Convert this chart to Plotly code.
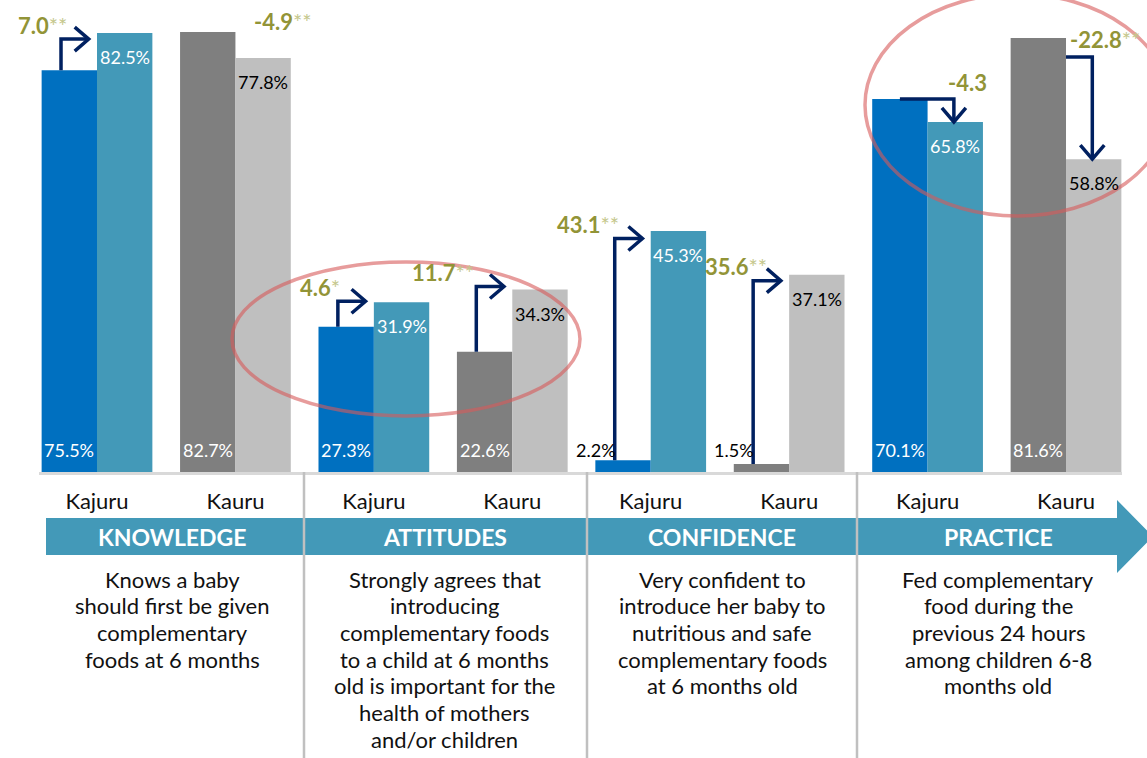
import plotly.graph_objects as go

# ---------------- data ----------------
groups = ["KNOWLEDGE", "ATTITUDES", "CONFIDENCE", "PRACTICE"]
sites = ["Kajuru", "Kauru"]
baseline = [75.5, 82.7, 27.3, 22.6, 2.2, 1.5, 70.1, 81.6]
endline = [82.5, 77.8, 31.9, 34.3, 45.3, 37.1, 65.8, 58.8]
change_vals = ["7.0", "-4.9", "4.6", "11.7", "43.1", "35.6", "-4.3", "-22.8"]
change_sig = ["**", "**", "*", "**", "**", "**", "", "**"]
descriptions = [
    ["Knows a baby", "should first be given", "complementary", "foods at 6 months"],
    ["Strongly agrees that", "introducing", "complementary foods", "to a child at 6 months",
     "old is important for the", "health of mothers", "and/or children"],
    ["Very confident to", "introduce her baby to", "nutritious and safe",
     "complementary foods", "at 6 months old"],
    ["Fed complementary", "food during the", "previous 24 hours",
     "among children 6-8", "months old"],
]

# ---------------- style ----------------
FONT = "Lato, 'Open Sans', sans-serif"
C_KAJ_B, C_KAJ_E = "#0070C0", "#4399B8"
C_KAU_B, C_KAU_E = "#7F7F7F", "#BFBFBF"
NAVY = "#002060"
OLIVE = "#929437"
OLIVE_L = "#C5C78C"
W, H = 1147, 758
ML, MR, MT, MB = 39, 25, 0, 286
PW = W - ML - MR          # plot width px
PH = H - MT - MB          # plot height px
XS = 138.43               # px per category unit
X0 = -0.419
YS = 5.32                 # px per percent
YMAX = PH / YS


def xp(px):  # pixel -> paper x
    return (px - ML) / PW


def yp(py):  # pixel -> paper y
    return (MT + PH - py) / PH


n = len(baseline)
xs = list(range(n))
site_labels = [sites[i % 2] for i in xs]

fig = go.Figure()
fig.add_trace(go.Bar(x=xs, y=baseline, name="Baseline",
                     marker=dict(color=[C_KAJ_B if i % 2 == 0 else C_KAU_B for i in xs], line=dict(width=0))))
fig.add_trace(go.Bar(x=xs, y=endline, name="Endline",
                     marker=dict(color=[C_KAJ_E if i % 2 == 0 else C_KAU_E for i in xs], line=dict(width=0))))

shapes = []
annos = []

elbow_px = [6, 6, -1, -3, 7.5, 6, 0, 19]
label_dx = [8, -10, 4, 0, 6, 16, -8, -24]
draw_arrow = [True, False, True, True, True, True, True, True]

dxu = 1.0 / XS
dyu = 1.0 / YS
HEAD_A, HEAD_C = 14, 12   # arrowhead along / across px


def line_path(pts):
    return "M " + " L ".join(f"{x},{y}" for x, y in pts)


def change_text(i):
    t = f"<b>{change_vals[i]}</b>"
    if change_sig[i]:
        t += f"<span style='color:{OLIVE_L}'>{change_sig[i]}</span>"
    return t


for i in xs:
    b, e = baseline[i], endline[i]
    inc = e >= b
    if inc:
        xv = i - 0.26
        xt = i - 0.06
        ey = e - elbow_px[i] * dyu
        if draw_arrow[i]:
            shapes.append(dict(type="path", xref="x", yref="y",
                               path=line_path([(xv, b), (xv, ey), (xt, ey)]),
                               line=dict(color=NAVY, width=3.5)))
            shapes.append(dict(type="path", xref="x", yref="y",
                               path=line_path([(xt - HEAD_A * dxu, ey + HEAD_C * dyu), (xt, ey),
                                               (xt - HEAD_A * dxu, ey - HEAD_C * dyu)]),
                               line=dict(color=NAVY, width=3.5)))
        annos.append(dict(x=xv, y=ey, xref="x", yref="y", xanchor="right", yanchor="middle",
                          xshift=label_dx[i], yshift=14, showarrow=False, text=change_text(i),
                          font=dict(family=FONT, size=22, color=OLIVE)))
    else:
        ey = b - elbow_px[i] * dyu
        xs0 = i - 0.2 if elbow_px[i] <= 0 else i
        xv = i + 0.19
        if draw_arrow[i]:
            shapes.append(dict(type="path", xref="x", yref="y",
                               path=line_path([(xs0, ey), (xv, ey), (xv, e)]),
                               line=dict(color=NAVY, width=3.5)))
            shapes.append(dict(type="path", xref="x", yref="y",
                               path=line_path([(xv - HEAD_C * dxu, e + HEAD_A * dyu), (xv, e),
                                               (xv + HEAD_C * dxu, e + HEAD_A * dyu)]),
                               line=dict(color=NAVY, width=3.5)))
        annos.append(dict(x=xv, y=ey, xref="x", yref="y", xanchor="left", yanchor="middle",
                          xshift=label_dx[i], yshift=17, showarrow=False, text=change_text(i),
                          font=dict(family=FONT, size=22, color=OLIVE)))

    # baseline value label
    if b >= 10:
        annos.append(dict(x=i - 0.2, y=0, xref="x", yref="y", xanchor="center", yanchor="bottom",
                          yshift=9, showarrow=False, text=f"{b:.1f}%",
                          font=dict(family=FONT, size=18, color="white")))
    else:
        annos.append(dict(x=i - 0.26, y=0, xref="x", yref="y", xanchor="right", yanchor="bottom",
                          xshift=3, yshift=9, showarrow=False, text=f"{b:.1f}%",
                          font=dict(family=FONT, size=18, color="black")))
    # endline value label
    annos.append(dict(x=i + 0.2, y=e, xref="x", yref="y", xanchor="center", yanchor="top",
                      yshift=-11, showarrow=False, text=f"{e:.1f}%",
                      font=dict(family=FONT, size=18, color="white" if i % 2 == 0 else "black")))

# ------------- bottom band -------------
band_top, band_bot = 518, 555
shapes.append(dict(type="path", xref="paper", yref="paper", layer="above",
                   path=line_path([(xp(46), yp(band_top)), (xp(1117), yp(band_top)), (xp(1117), yp(500)),
                                   (xp(1153), yp(536.5)), (xp(1117), yp(573)), (xp(1117), yp(band_bot)),
                                   (xp(46), yp(band_bot))]) + " Z",
                   fillcolor="#4399B8", line=dict(width=0)))
for sx in [304, 587, 857]:
    shapes.append(dict(type="line", xref="paper", yref="paper", layer="above",
                       x0=xp(sx), x1=xp(sx), y0=yp(472), y1=yp(758),
                       line=dict(color="#C0C0C0", width=2.5)))

centers = [172, 445, 722, 998]
LINE_H = 26.7
for g, cx, d in zip(groups, centers, descriptions):
    annos.append(dict(x=xp(cx), y=yp(536.5), xref="paper", yref="paper", showarrow=False,
                      xanchor="center", yanchor="middle", text=f"<b>{g}</b>",
                      font=dict(family=FONT, size=23, color="white")))
    for k, line in enumerate(d):
        annos.append(dict(x=xp(cx), y=yp(579 + k * LINE_H), xref="paper", yref="paper", showarrow=False,
                          xanchor="center", yanchor="middle", text=line,
                          font=dict(family=FONT, size=22, color="#111111")))

# ------------- highlight ellipses -------------
for (x0, y0, x1, y1) in [(232, 262, 580, 416), (865, -6, 1170, 216)]:
    shapes.append(dict(type="circle", xref="paper", yref="paper", layer="above",
                       x0=xp(x0), x1=xp(x1), y0=yp(y1), y1=yp(y0),
                       line=dict(color="rgba(215,90,90,0.6)", width=3.5)))

fig.update_layout(
    width=W, height=H,
    margin=dict(l=ML, r=MR, t=MT, b=MB),
    paper_bgcolor="white", plot_bgcolor="white",
    barmode="group", bargap=0.2, bargroupgap=0,
    showlegend=False,
    shapes=shapes, annotations=annos,
    xaxis=dict(range=[X0, X0 + PW / XS], tickmode="array", tickvals=xs, ticktext=site_labels,
               showgrid=False, zeroline=False, showline=True, linecolor="#D9D9D9", linewidth=3,
               ticks="", ticklabelstandoff=8,
               tickfont=dict(family=FONT, size=22, color="#111111")),
    yaxis=dict(range=[0, YMAX], visible=False, showgrid=False, zeroline=False),
)

fig.write_html("out.html", config={"displayModeBar": False},
               post_script="document.body.style.margin='0';")
